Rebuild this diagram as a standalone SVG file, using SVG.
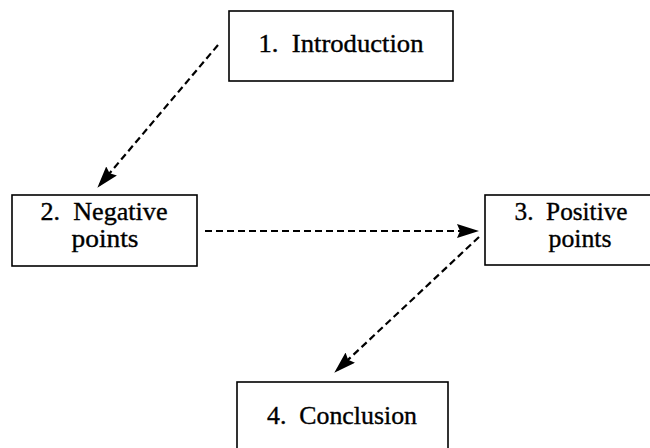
<svg xmlns="http://www.w3.org/2000/svg" width="650" height="448" viewBox="0 0 650 448">
<defs>
<style>
.box{fill:#fff;stroke:#000;stroke-width:1.6}
.lbl{font-family:"Liberation Serif","DejaVu Serif",serif;font-size:25px;fill:#000;stroke:#000;stroke-width:0.35;text-anchor:middle}
.con{fill:none;stroke:#000;stroke-width:2.2;stroke-dasharray:7 4}
</style>
<marker id="ah" viewBox="0 0 22 14" refX="21" refY="7" markerWidth="22" markerHeight="14" markerUnits="userSpaceOnUse" orient="auto">
<path d="M0,0 L22,7 L0,14 L3,7 Z" fill="#000"/>
</marker>
</defs>
<rect width="650" height="448" fill="#fff"/>
<g id="connectors">
<line class="con" x1="218" y1="45" x2="98" y2="187" marker-end="url(#ah)"/>
<line class="con" x1="205" y1="231" x2="478" y2="231" marker-end="url(#ah)"/>
<line class="con" x1="479" y1="237" x2="335" y2="372" marker-end="url(#ah)"/>
</g>
<g id="n1">
<rect class="box" x="229" y="11" width="224" height="70"/>
<text class="lbl" x="341" y="52" textLength="165" lengthAdjust="spacingAndGlyphs" xml:space="preserve">1.  Introduction</text>
</g>
<g id="n2">
<rect class="box" x="12" y="195" width="185" height="71"/>
<text class="lbl" x="104" y="220" textLength="127" lengthAdjust="spacingAndGlyphs" xml:space="preserve">2.  Negative</text>
<text class="lbl" x="105" y="247" textLength="67" lengthAdjust="spacingAndGlyphs">points</text>
</g>
<g id="n3">
<rect class="box" x="485" y="195" width="170" height="70"/>
<text class="lbl" x="571" y="220" textLength="113" lengthAdjust="spacingAndGlyphs" xml:space="preserve">3.  Positive</text>
<text class="lbl" x="580" y="247" textLength="63" lengthAdjust="spacingAndGlyphs">points</text>
</g>
<g id="n4">
<rect class="box" x="237" y="382" width="211" height="80"/>
<text class="lbl" x="342" y="424" textLength="150" lengthAdjust="spacingAndGlyphs" xml:space="preserve">4.  Conclusion</text>
</g>
</svg>
